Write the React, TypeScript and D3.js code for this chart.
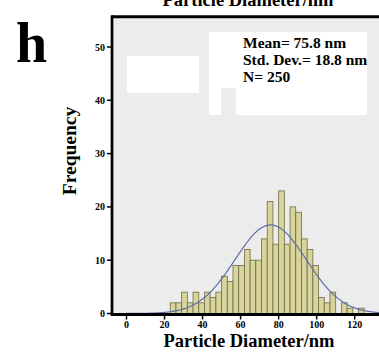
import React from "react";
import * as d3 from "d3";

const binStarts = [23,26,29,32,35,38,41,44,47,50,53,56,59,62,65,68,71,74,77,80,83,86,89,92,95,98,101,104,107,110,113,116,119,122];
const binCounts = [2,2,4,2,4,2,4,3,4,7,6,9,9,12,10,10,14,21,13,23,13,20,19,14,12,9,3,2,4,0,2,1,0,1];
const binWidth = 3;
const xTicks = [0,20,40,60,80,100,120];
const yTicks = [0,10,20,30,40,50];
const statLines = ["Mean= 75.8 nm", "Std. Dev.= 18.8 nm", "N= 250"];
const mean = 75.8;
const sd = 18.8;

const W = 379, H = 352;
const FONT = "'Liberation Serif', 'Times New Roman', serif";

export default function App() {
  const x = d3.scaleLinear().domain([0, 120]).range([126.5, 354.7]);
  const y = d3.scaleLinear().domain([0, 50]).range([313.5, 47]);
  const total = d3.sum(binCounts);
  const pdf = (v: number) =>
    (total * binWidth) / (sd * Math.sqrt(2 * Math.PI)) * Math.exp(-0.5 * ((v - mean) / sd) ** 2);
  const curvePts = d3.range(-3, 136, 0.5).map((v) => [v, pdf(v)] as [number, number]);
  const line = d3.line<[number, number]>().x((d) => x(d[0])).y((d) => y(d[1])).curve(d3.curveBasis);

  const plotLeft = 112;
  const plotTop = 16.7;
  const plotBottom = y(0);

  return (
    <svg width={W} height={H} style={{ position: "absolute", left: 0, top: 0, background: "#fff" }}>
      <rect x={0} y={0} width={W} height={H} fill="#fff" />
      {/* top clipped title */}
      <text x={248} y={6} textAnchor="middle" fontFamily={FONT} fontWeight="bold" fontSize={18.5}>Particle Diameter/nm</text>
      <text x={16} y={62} fontFamily={FONT} fontWeight="bold" fontSize={56}>h</text>
      {/* plot background */}
      <rect x={plotLeft} y={plotTop} width={W - plotLeft + 5} height={plotBottom - plotTop} fill="#ececec" />
      {/* white patches */}
      <rect x={127} y={56} width={72} height={37} fill="#fff" />
      <rect x={209} y={32} width={158} height={56} fill="#fff" />
      <rect x={209} y={88} width={12} height={27} fill="#fff" />
      <rect x={236} y={88} width={131} height={27} fill="#fff" />
      {statLines.map((t, i) => (
        <text key={t} x={243} y={47.7 + i * 17} fontFamily={FONT} fontWeight="bold" fontSize={15.5}>{t}</text>
      ))}
      {/* bars */}
      {binStarts.map((s, i) =>
        binCounts[i] > 0 ? (
          <rect key={s} x={x(s)} y={y(binCounts[i])} width={x(s + binWidth) - x(s)} height={y(0) - y(binCounts[i])}
            fill="#d9d39c" stroke="#6e6c45" strokeWidth={0.8} />
        ) : null
      )}
      {/* normal curve */}
      <path d={line(curvePts) || ""} fill="none" stroke="#5b6fa6" strokeWidth={1.2} />
      {/* frame */}
      <line x1={plotLeft} x2={W + 5} y1={plotTop} y2={plotTop} stroke="#000" strokeWidth={3} />
      <line x1={plotLeft} x2={plotLeft} y1={plotTop - 1.5} y2={plotBottom + 1.5} stroke="#000" strokeWidth={2.7} />
      <line x1={plotLeft - 1.3} x2={W + 5} y1={plotBottom + 1} y2={plotBottom + 1} stroke="#000" strokeWidth={3} />
      {/* y ticks */}
      {yTicks.map((t) => (
        <g key={t}>
          <line x1={plotLeft - 5} x2={plotLeft} y1={y(t)} y2={y(t)} stroke="#000" strokeWidth={1.5} />
          <text x={plotLeft - 7} y={y(t) + 3.5} textAnchor="end" fontFamily={FONT} fontWeight="bold" fontSize={10}>{t}</text>
        </g>
      ))}
      {/* x ticks */}
      {xTicks.map((t) => (
        <g key={t}>
          <line x1={x(t)} x2={x(t)} y1={plotBottom + 2} y2={plotBottom + 6} stroke="#000" strokeWidth={1.5} />
          <text x={x(t)} y={327.5} textAnchor="middle" fontFamily={FONT} fontWeight="bold" fontSize={10}>{t}</text>
        </g>
      ))}
      <text x={249} y={347} textAnchor="middle" fontFamily={FONT} fontWeight="bold" fontSize={18.5}>Particle Diameter/nm</text>
      <text transform="translate(76,151) rotate(-90)" textAnchor="middle" fontFamily={FONT} fontWeight="bold" fontSize={19.5}>Frequency</text>
    </svg>
  );
}
